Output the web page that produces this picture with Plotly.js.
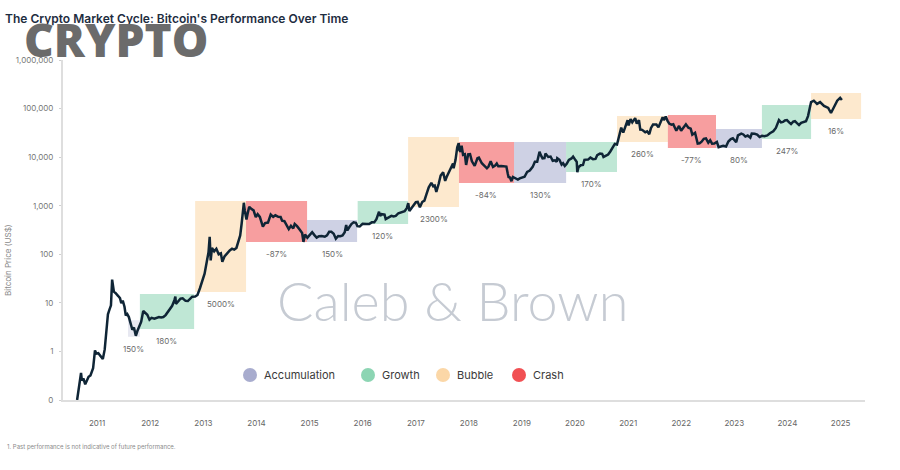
<!DOCTYPE html>
<html>
<head>
<meta charset="utf-8">
<script src="https://cdn.plot.ly/plotly-3.0.1.min.js"></script>
<style>
html,body{margin:0;padding:0;background:#fff;}
#chart{width:900px;height:470px;}
</style>
</head>
<body>
<div id="chart"></div>
<script>
// ---- Bitcoin price (US$) ----
const priceDates = [
"2010-07-18","2010-08-20","2010-09-20","2010-10-10","2010-10-25","2010-11-06","2010-11-12","2010-11-22","2010-12-05","2010-12-15","2010-12-28",
"2011-01-10","2011-01-28","2011-02-10","2011-02-20","2011-03-05","2011-03-20","2011-04-05","2011-04-18","2011-05-01","2011-05-10","2011-05-20","2011-05-31",
"2011-06-08","2011-06-14","2011-06-20","2011-07-01","2011-07-10","2011-07-20","2011-08-01","2011-08-10","2011-08-20","2011-09-01","2011-09-10","2011-09-20",
"2011-10-01","2011-10-15","2011-10-25","2011-11-05","2011-11-18","2011-11-28","2011-12-10","2011-12-25",
"2012-01-08","2012-01-20","2012-02-05","2012-02-20","2012-03-05","2012-03-25","2012-04-10","2012-04-25","2012-05-10","2012-05-25","2012-06-10","2012-06-25",
"2012-07-10","2012-07-25","2012-08-10","2012-08-16","2012-08-20","2012-09-05","2012-09-20","2012-10-05","2012-10-25","2012-11-10","2012-11-25","2012-12-10","2012-12-30",
"2013-01-15","2013-02-01","2013-02-20","2013-03-05","2013-03-20","2013-04-01","2013-04-09","2013-04-16","2013-04-25","2013-05-10","2013-05-25","2013-06-10","2013-06-25",
"2013-07-05","2013-07-20","2013-08-05","2013-08-25","2013-09-10","2013-09-25","2013-10-10","2013-10-25","2013-11-05","2013-11-15","2013-11-22","2013-11-30",
"2013-12-07","2013-12-18","2013-12-28",
"2014-01-06","2014-01-20","2014-02-05","2014-02-20","2014-03-05","2014-03-20","2014-04-10","2014-04-25","2014-05-15","2014-06-03","2014-06-20","2014-07-05",
"2014-07-25","2014-08-10","2014-08-20","2014-09-05","2014-09-20","2014-10-05","2014-10-20","2014-11-05","2014-11-15","2014-12-01","2014-12-20",
"2015-01-05","2015-01-14","2015-01-25","2015-02-10","2015-02-28","2015-03-15","2015-04-01","2015-04-15","2015-05-01","2015-05-20","2015-06-10","2015-06-25",
"2015-07-10","2015-07-25","2015-08-10","2015-08-25","2015-09-10","2015-09-25","2015-10-10","2015-10-25","2015-11-04","2015-11-12","2015-11-25","2015-12-10","2015-12-25",
"2016-01-10","2016-01-20","2016-02-05","2016-02-25","2016-03-10","2016-03-25","2016-04-10","2016-04-28","2016-05-15","2016-05-30","2016-06-17","2016-06-25",
"2016-07-05","2016-07-25","2016-08-02","2016-08-20","2016-09-10","2016-09-25","2016-10-10","2016-10-28","2016-11-10","2016-11-25","2016-12-10","2016-12-25",
"2017-01-04","2017-01-12","2017-01-25","2017-02-10","2017-02-25","2017-03-10","2017-03-25","2017-04-10","2017-04-25","2017-05-10","2017-05-25","2017-06-12",
"2017-06-25","2017-07-05","2017-07-16","2017-08-01","2017-08-15","2017-09-01","2017-09-15","2017-09-25","2017-10-10","2017-10-25","2017-11-08","2017-11-12",
"2017-11-25","2017-12-07","2017-12-17","2017-12-22","2017-12-30",
"2018-01-06","2018-01-16","2018-01-28","2018-02-06","2018-02-20","2018-03-05","2018-03-18","2018-04-06","2018-04-25","2018-05-05","2018-05-25","2018-06-10",
"2018-06-29","2018-07-10","2018-07-25","2018-08-10","2018-08-25","2018-09-05","2018-09-15","2018-10-05","2018-10-25","2018-11-10","2018-11-20","2018-11-25",
"2018-12-05","2018-12-15","2018-12-25",
"2019-01-10","2019-01-28","2019-02-10","2019-02-25","2019-03-15","2019-04-02","2019-04-20","2019-05-10","2019-05-25","2019-06-10","2019-06-26","2019-07-05",
"2019-07-17","2019-07-30","2019-08-06","2019-08-25","2019-09-10","2019-09-25","2019-10-10","2019-10-22","2019-10-26","2019-11-10","2019-11-25","2019-12-05",
"2019-12-17","2019-12-30",
"2020-01-14","2020-02-01","2020-02-12","2020-02-28","2020-03-08","2020-03-12","2020-03-20","2020-04-05","2020-04-20","2020-04-30","2020-05-10","2020-05-25",
"2020-06-10","2020-06-28","2020-07-15","2020-07-27","2020-08-15","2020-08-30","2020-09-08","2020-09-25","2020-10-10","2020-10-25","2020-11-10","2020-11-25",
"2020-12-10","2020-12-20","2020-12-31",
"2021-01-08","2021-01-22","2021-02-08","2021-02-21","2021-02-28","2021-03-13","2021-03-25","2021-04-14","2021-04-25","2021-05-10","2021-05-19","2021-06-01",
"2021-06-22","2021-07-05","2021-07-20","2021-08-01","2021-08-15","2021-09-07","2021-09-21","2021-10-05","2021-10-20","2021-10-28","2021-11-10","2021-11-22",
"2021-12-04","2021-12-20",
"2022-01-01","2022-01-22","2022-02-10","2022-02-24","2022-03-10","2022-03-29","2022-04-15","2022-05-01","2022-05-12","2022-05-31","2022-06-18","2022-07-01",
"2022-07-15","2022-07-30","2022-08-14","2022-08-30","2022-09-12","2022-09-25","2022-10-10","2022-10-28","2022-11-09","2022-11-25","2022-12-10","2022-12-30",
"2023-01-15","2023-02-01","2023-02-15","2023-03-10","2023-03-22","2023-04-14","2023-04-28","2023-05-12","2023-05-28","2023-06-15","2023-06-25","2023-07-15",
"2023-08-01","2023-08-18","2023-09-03","2023-09-20","2023-10-10","2023-10-28","2023-11-20","2023-12-08","2023-12-29",
"2024-01-12","2024-01-26","2024-02-08","2024-02-22","2024-03-08","2024-03-21","2024-04-05","2024-04-17","2024-05-01","2024-05-15","2024-05-30","2024-06-12",
"2024-07-02","2024-07-16","2024-07-28","2024-08-06","2024-08-25","2024-09-16","2024-10-07","2024-11-03","2024-12-02","2024-12-21",
"2025-01-11","2025-02-02","2025-02-22","2025-03-06"
];
const priceValues = [
0.07,0.065,0.062,0.10,0.19,0.36,0.25,0.28,0.21,0.25,0.30,
0.32,0.45,1.05,0.90,0.92,0.82,0.70,1.1,3.2,5.8,7.2,8.9,
30,19,17,16,14.5,13.8,12.5,9.8,11.2,8.3,5.5,5.9,
5.1,3.8,2.8,3.1,2.1,2.6,3.1,4.1,
6.8,6.3,5.7,4.5,4.9,4.7,4.9,5.1,5.0,5.1,5.6,6.4,
7.4,8.7,11.5,13.5,9.5,10.9,12.2,12.4,11.0,10.9,12.4,13.4,13.5,
14.5,20,29,40,70,110,230,75,135,115,130,100,105,
70,90,105,120,130,125,135,185,245,430,770,1150,
780,520,730,
950,860,800,580,670,590,370,440,450,660,590,635,
590,585,490,480,410,330,385,340,420,380,320,
275,180,255,220,255,285,245,220,235,238,230,245,
290,290,265,210,238,235,245,285,400,310,360,420,455,
445,380,375,425,415,418,420,455,455,530,750,620,
670,655,530,580,620,600,615,700,715,740,770,890,
1130,780,890,990,1180,1200,930,1190,1270,1750,2400,2950,
2500,2600,1930,2800,4200,4900,3250,3900,4800,5700,7400,5900,
8700,16000,19500,13800,12900,
17200,11200,11500,6900,11400,11500,8200,6600,9500,9800,7500,6800,
5900,6400,8200,6300,6700,7400,6500,6600,6500,6400,4500,3900,
3800,3200,3900,
3650,3450,3650,3800,3950,4950,5300,6300,8000,8000,12900,11000,
9400,9500,11900,10100,10300,8400,8600,8000,9500,8800,7000,7500,
6600,7300,
8800,9400,10300,8700,8000,4900,6200,6800,6900,8800,8800,8900,
9800,9100,9200,11000,11800,11700,10100,10700,11300,13100,15300,18700,
18200,23500,29000,
40500,32000,46000,57500,45000,61000,52000,63500,49000,58000,37000,36500,
32500,34000,29800,40000,47000,46800,41000,51500,66000,58000,68500,56500,
49000,46700,
47500,35000,44000,35000,39000,47500,40500,38500,29000,31800,19000,19300,
20800,23800,24400,19800,22300,18900,19100,20600,16000,16500,17100,16500,
21000,23500,24500,20200,28000,30500,29300,26500,27800,25100,30500,30300,
29200,26000,27500,27000,28000,31000,34000,40000,58000,
52000,53000,57000,58000,52000,48000,54000,55000,50000,46000,51000,53000,
55000,70000,100000,136000,145000,125000,136000,113000,103000,81000,
108000,145000,166000,150000
];

// ---- Market phases (boxes) ----
const phaseNames  = ["Accumulation","Growth","Bubble","Crash","Accumulation","Growth","Bubble","Crash","Accumulation","Growth","Bubble","Crash","Accumulation","Growth","Bubble"];
const phaseStart  = ["2011-09-25","2011-12-16","2012-12-30","2013-12-15","2015-02-08","2016-01-22","2017-01-03","2017-12-19","2019-01-02","2019-12-26","2020-12-10","2021-11-25","2022-10-22","2023-09-03","2024-08-06"];
const phaseEnd    = ["2011-12-16","2012-12-23","2013-12-15","2015-02-08","2016-01-18","2017-01-03","2017-12-19","2019-01-02","2019-12-26","2020-12-10","2021-11-25","2022-10-22","2023-09-03","2024-08-06","2025-07-16"];
const phaseLow    = [2.0,2.9,16.7,179,179,420,940,2940,2940,4950,20500,15400,15400,23600,61000];
const phaseHigh   = [4.4,15.2,1250,1250,508,1250,26000,20500,20500,20500,70300,73800,38000,118600,209000];
const phaseLabels = ["150%","180%","5000%","-87%","150%","120%","2300%","-84%","130%","170%","260%","-77%","80%","247%","16%"];

// ---- Legend / phase colours ----
const legendNames  = ["Accumulation","Growth","Bubble","Crash"];
const legendColors = ["#9ea3c9","#80d0ab","#fbd39d","#ef3d40"];

// ---- Axis ticks ----
const xTickYears  = ["2011","2012","2013","2014","2015","2016","2017","2018","2019","2020","2021","2022","2023","2024","2025"];
const yTickValues = [0.1,1,10,100,1000,10000,100000,1000000];
const yTickLabels = ["0","1","10","100","1,000","10,000","100,000","1,000,000"];

// ---- build ----
const colorOf = n => legendColors[legendNames.indexOf(n)];
const W = 900, H = 470, ML = 63, MR = 35, MT = 60, MB = 70;
const PW = W - ML - MR, PH = H - MT - MB;
const px = x => (x - ML) / PW;          // pixel -> paper x
const py = y => (H - MB - y) / PH;      // pixel -> paper y

const shapes = [];
const annotations = [];
function midDate(a, b) {
  const t = (new Date(a).getTime() + new Date(b).getTime()) / 2;
  return new Date(t).toISOString().slice(0, 10);
}
phaseNames.forEach((n, i) => {
  shapes.push({
    type: "rect", xref: "x", yref: "y", layer: "below",
    x0: phaseStart[i], x1: phaseEnd[i], y0: phaseLow[i], y1: phaseHigh[i],
    fillcolor: colorOf(n), opacity: i === 0 ? 0.25 : 0.5, line: {width: 0}
  });
  annotations.push({
    xref: "x", yref: "y", x: midDate(phaseStart[i], phaseEnd[i]), y: Math.log10(phaseLow[i]),
    text: phaseLabels[i], showarrow: false, yanchor: "middle", yshift: -12,
    font: {size: 8, color: "#6a6a6a", family: "Inter, Lato, sans-serif"}
  });
});

// manual legend
const legendCircleX = [250, 368, 443, 519];
legendNames.forEach((n, i) => {
  shapes.push({
    type: "circle", xref: "paper", yref: "paper", xsizemode: "pixel", ysizemode: "pixel",
    xanchor: px(legendCircleX[i]), yanchor: py(375), x0: -7, x1: 7, y0: -7, y1: 7,
    fillcolor: legendColors[i], line: {width: 0}, opacity: 0.9
  });
  annotations.push({
    xref: "paper", yref: "paper", x: px(legendCircleX[i] + 12), y: py(375),
    xanchor: "left", yanchor: "middle", showarrow: false, text: n,
    font: {size: 11, color: "#3a3a3a", family: "Inter, Lato, sans-serif"}
  });
});

// watermark texts
annotations.push({
  xref: "paper", yref: "paper", x: px(452), y: py(300), xanchor: "center", yanchor: "middle",
  showarrow: false, text: "Caleb &amp; Brown",
  font: {size: 54, color: "#c6cbd3", family: "Lato, Inter, sans-serif", weight: 300}
});
annotations.push({
  xref: "paper", yref: "paper", x: px(22), y: py(39), xanchor: "left", yanchor: "middle",
  showarrow: false, text: "CRYPTO",
  font: {size: 46, color: "#6b6b6b", family: "Open Sans, sans-serif", weight: 800}
});
// y title
annotations.push({
  xref: "paper", yref: "paper", x: px(8), y: py(260), xanchor: "center", yanchor: "middle",
  showarrow: false, textangle: -90, text: "Bitcoin Price (US$)",
  font: {size: 8, color: "#8a8a8a", family: "Inter, Lato, sans-serif"}
});
// footnote
annotations.push({
  xref: "paper", yref: "paper", x: px(5), y: py(447), xanchor: "left", yanchor: "middle",
  showarrow: false, text: "1. Past performance is not indicative of future performance.",
  font: {size: 6, color: "#8a8a8a", family: "Inter, Lato, sans-serif"}
});

const trace = {
  type: "scatter", mode: "lines", x: priceDates, y: priceValues,
  line: {color: "#0f2536", width: 2.5}, showlegend: false, hoverinfo: "skip"
};

const layout = {
  width: W, height: H,
  margin: {l: ML, r: MR, t: MT, b: MB},
  paper_bgcolor: "#ffffff", plot_bgcolor: "#ffffff",
  font: {family: "Inter, Lato, sans-serif", color: "#666"},
  title: {
    text: "The Crypto Market Cycle: Bitcoin's Performance Over Time",
    x: 5 / W, xanchor: "left", xref: "container", y: 1 - 19 / H, yanchor: "middle", yref: "container",
    font: {size: 12, color: "#1e2d3f", family: "Inter, Lato, sans-serif", weight: 600}
  },
  showlegend: false,
  xaxis: {
    type: "date", range: ["2010-07-05", "2025-08-12"],
    tickvals: xTickYears.map(y => y + "-02-25"), ticktext: xTickYears,
    showgrid: false, zeroline: false, showline: true, linecolor: "#dedede", linewidth: 2,
    ticks: "", ticklabelstandoff: 14,
    tickfont: {size: 8, color: "#666"}
  },
  yaxis: {
    type: "log", range: [-1, 6],
    tickvals: yTickValues, ticktext: yTickLabels,
    showgrid: false, zeroline: false, showline: true, linecolor: "#dedede", linewidth: 2,
    ticks: "outside", ticklen: 2, tickcolor: "#d0d0d0", ticklabelstandoff: 4,
    tickfont: {size: 8, color: "#777"}
  },
  shapes: shapes,
  annotations: annotations,
  hovermode: false
};

Plotly.newPlot("chart", [trace], layout, {staticPlot: true, displayModeBar: false});
</script>
</body>
</html>
